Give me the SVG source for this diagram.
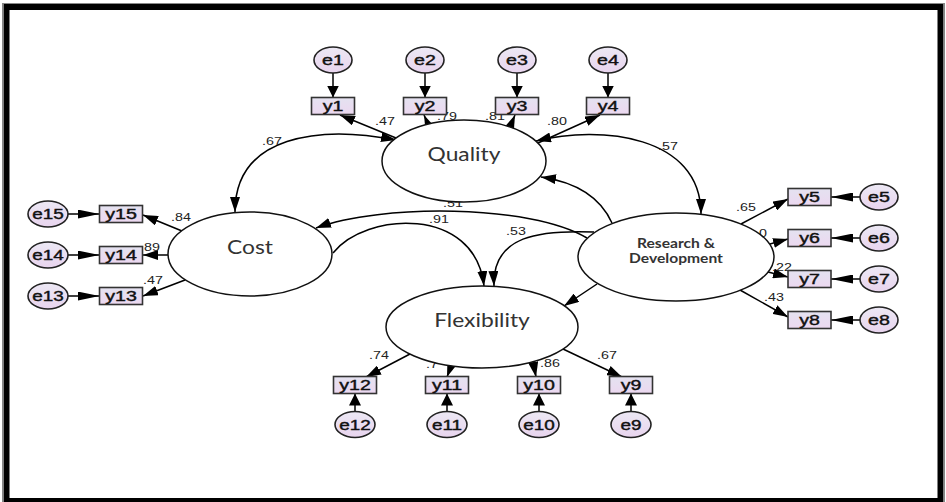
<svg xmlns="http://www.w3.org/2000/svg" width="946" height="502" viewBox="0 0 946 502">
<defs>
<linearGradient id="gE" x1="0" y1="0" x2="0" y2="1"><stop offset="0" stop-color="#ECE8F4"/><stop offset="1" stop-color="#E8D4EE"/></linearGradient>
<linearGradient id="gY" x1="0" y1="0" x2="0" y2="1"><stop offset="0" stop-color="#E4E2F0"/><stop offset="1" stop-color="#ECD8F0"/></linearGradient>
<marker id="ah" viewBox="0 0 15 10" refX="15" refY="5" markerWidth="15" markerHeight="10" orient="auto-start-reverse" markerUnits="userSpaceOnUse"><path d="M0,0 L15,5 L0,10 z" fill="#000"/></marker>
<marker id="av" viewBox="0 0 12 12" refX="12" refY="6" markerWidth="12" markerHeight="12" orient="auto" markerUnits="userSpaceOnUse"><path d="M0,0 L12,6 L0,12 z" fill="#000"/></marker>
<marker id="ahz" viewBox="0 0 22 9" refX="22" refY="4.5" markerWidth="22" markerHeight="9" orient="auto" markerUnits="userSpaceOnUse"><path d="M0,0 L22,4.5 L0,9 z" fill="#000"/></marker>
</defs>
<style>
.ln{fill:none;stroke:#000;stroke-width:1.5}
.a{marker-end:url(#ah)}
.cv{marker-start:url(#ah);marker-end:url(#ah)}
.v{marker-end:url(#av)}
.h{marker-end:url(#ahz)}
.err{fill:url(#gE);stroke:#222;stroke-width:1.6}
.obs{fill:url(#gY);stroke:#333;stroke-width:1.6}
.lat{fill:#fff;stroke:#111;stroke-width:1.5}
.t{font-family:"Liberation Sans",Arial,sans-serif;font-size:14px;fill:#111;stroke:#111;stroke-width:0.4;text-anchor:middle}
.el{font-family:"Liberation Sans",Arial,sans-serif;font-size:11px;fill:#222;text-anchor:middle}
.lt{font-family:Lato,"Open Sans",sans-serif;font-size:19px;fill:#333;text-anchor:middle}
.rd{font-family:Lato,"Open Sans",sans-serif;font-size:12.5px;font-weight:bold;fill:#333;text-anchor:middle}
</style>
<rect x="0" y="0" width="946" height="502" fill="#fff"/>
<rect x="2.5" y="3.5" width="942" height="499" fill="none" stroke="#888" stroke-width="1"/>
<rect x="6.5" y="7" width="934" height="494" fill="none" stroke="#000" stroke-width="6"/>

<g id="connectors">
<path class="ln v" d="M333,73 V97.5"/>
<path class="ln v" d="M425,73 V97.5"/>
<path class="ln v" d="M517,73 V97.5"/>
<path class="ln v" d="M608,73 V97.5"/>
<path class="ln v" d="M355,411.5 V393.5"/>
<path class="ln v" d="M447,411.5 V393.5"/>
<path class="ln v" d="M539,411.5 V393.5"/>
<path class="ln v" d="M631,411.5 V393.5"/>
<path class="ln h" d="M68,214 H99.5"/>
<path class="ln h" d="M68,255 H99.5"/>
<path class="ln h" d="M68,296 H99.5"/>
<path class="ln h" d="M860,197 H831"/>
<path class="ln h" d="M860,238 H831"/>
<path class="ln h" d="M860,279 H831"/>
<path class="ln h" d="M860,320 H831"/>
<path class="ln a" d="M396,138 L340,115"/>
<path class="ln a" d="M428,124 L424,115"/>
<path class="ln a" d="M510,127 L515,115"/>
<path class="ln a" d="M538,143 L600,115"/>
<path class="ln a" d="M182,231 L143,215"/>
<path class="ln a" d="M168,255 L143,255"/>
<path class="ln a" d="M185,280 L143,296"/>
<path class="ln a" d="M741,224 L788,199"/>
<path class="ln a" d="M770,244 L788,239"/>
<path class="ln a" d="M768,272 L788,277"/>
<path class="ln a" d="M740,290 L788,317"/>
<path class="ln a" d="M410,354 L366,377"/>
<path class="ln a" d="M451,366 L447,377"/>
<path class="ln a" d="M533,361 L536,377"/>
<path class="ln a" d="M563,349 L622,377"/>
<path class="ln cv" d="M396,140 C320,125 235,135 235,212"/>
<path class="ln cv" d="M536,141 C600,125 701,135 701,214"/>
<path class="ln a" d="M612,223 Q595,185 541,177"/>
<path class="ln a" d="M587,238 C530,204 380,204 316,228"/>
<path class="ln a" d="M333,253 C365,212 475,205 484,286"/>
<path class="ln a" d="M594,232 C540,230 492,235 494,286"/>
<path class="ln a" d="M597,284 L564,306"/>
<text class="el" transform="translate(385,125) scale(1.3,1)">.47</text>
<text class="el" transform="translate(447,120) scale(1.3,1)">.79</text>
<text class="el" transform="translate(495,120) scale(1.3,1)">.81</text>
<text class="el" transform="translate(557,125) scale(1.3,1)">.80</text>
<text class="el" transform="translate(272,145) scale(1.3,1)">.67</text>
<text class="el" transform="translate(668,149.5) scale(1.3,1)">.57</text>
<text class="el" transform="translate(181,220.5) scale(1.3,1)">.84</text>
<text class="el" transform="translate(152,251) scale(1.3,1)">89</text>
<text class="el" transform="translate(153,283.5) scale(1.3,1)">.47</text>
<text class="el" transform="translate(746,211) scale(1.3,1)">.65</text>
<text class="el" transform="translate(763,237) scale(1.3,1)">0</text>
<text class="el" transform="translate(782,270.5) scale(1.3,1)">.22</text>
<text class="el" transform="translate(774,300.5) scale(1.3,1)">.43</text>
<text class="el" transform="translate(379,358.5) scale(1.3,1)">.74</text>
<text class="el" transform="translate(432,368) scale(1.3,1)">.7</text>
<text class="el" transform="translate(550,367) scale(1.3,1)">.86</text>
<text class="el" transform="translate(607,358.5) scale(1.3,1)">.67</text>
<text class="el" transform="translate(453,207) scale(1.3,1)">.51</text>
<text class="el" transform="translate(439,223) scale(1.3,1)">.91</text>
<text class="el" transform="translate(516,235) scale(1.3,1)">.53</text>
</g>

<g id="Quality"><ellipse class="lat" cx="464" cy="161" rx="82" ry="41"/><text class="lt" transform="translate(464,161) scale(1.2,1)">Quality</text></g>
<g id="Cost"><ellipse class="lat" cx="250" cy="254" rx="82" ry="42"/><text class="lt" transform="translate(250,254) scale(1.2,1)">Cost</text></g>
<g id="Flexibility"><ellipse class="lat" cx="482" cy="327" rx="96" ry="41"/><text class="lt" transform="translate(482,327) scale(1.2,1)">Flexibility</text></g>
<g id="RD"><ellipse class="lat" cx="676" cy="257" rx="98" ry="44"/><text class="rd" transform="translate(676,247.5) scale(1.25,1)">Research &amp;</text><text class="rd" transform="translate(676,262.5) scale(1.25,1)">Development</text></g>

<g id="y1"><rect class="obs" x="311.5" y="97.5" width="43" height="17"/><text class="t" transform="translate(333,111) scale(1.4,1)">y1</text></g>
<g id="y2"><rect class="obs" x="403.5" y="97.5" width="43" height="17"/><text class="t" transform="translate(425,111) scale(1.4,1)">y2</text></g>
<g id="y3"><rect class="obs" x="495.5" y="97.5" width="43" height="17"/><text class="t" transform="translate(517,111) scale(1.4,1)">y3</text></g>
<g id="y4"><rect class="obs" x="586.5" y="97.5" width="43" height="17"/><text class="t" transform="translate(608,111) scale(1.4,1)">y4</text></g>
<g id="e1"><ellipse class="err" cx="333" cy="60" rx="19" ry="13"/><text class="t" transform="translate(333,65) scale(1.4,1)">e1</text></g>
<g id="e2"><ellipse class="err" cx="425" cy="60" rx="19" ry="13"/><text class="t" transform="translate(425,65) scale(1.4,1)">e2</text></g>
<g id="e3"><ellipse class="err" cx="517" cy="60" rx="19" ry="13"/><text class="t" transform="translate(517,65) scale(1.4,1)">e3</text></g>
<g id="e4"><ellipse class="err" cx="608" cy="60" rx="19" ry="13"/><text class="t" transform="translate(608,65) scale(1.4,1)">e4</text></g>

<g id="y15"><rect class="obs" x="99.5" y="205.5" width="43" height="17"/><text class="t" transform="translate(121,219) scale(1.4,1)">y15</text></g>
<g id="y14"><rect class="obs" x="99.5" y="246.5" width="43" height="17"/><text class="t" transform="translate(121,260) scale(1.4,1)">y14</text></g>
<g id="y13"><rect class="obs" x="99.5" y="287.5" width="43" height="17"/><text class="t" transform="translate(121,301) scale(1.4,1)">y13</text></g>
<g id="e15"><ellipse class="err" cx="48" cy="214" rx="20" ry="13"/><text class="t" transform="translate(48,219) scale(1.35,1)">e15</text></g>
<g id="e14"><ellipse class="err" cx="48" cy="255" rx="20" ry="13"/><text class="t" transform="translate(48,260) scale(1.35,1)">e14</text></g>
<g id="e13"><ellipse class="err" cx="48" cy="296" rx="20" ry="13"/><text class="t" transform="translate(48,301) scale(1.35,1)">e13</text></g>

<g id="y5"><rect class="obs" x="788" y="188.5" width="43" height="17"/><text class="t" transform="translate(809.5,202) scale(1.4,1)">y5</text></g>
<g id="y6"><rect class="obs" x="788" y="229.5" width="43" height="17"/><text class="t" transform="translate(809.5,243) scale(1.4,1)">y6</text></g>
<g id="y7"><rect class="obs" x="788" y="270.5" width="43" height="17"/><text class="t" transform="translate(809.5,284) scale(1.4,1)">y7</text></g>
<g id="y8"><rect class="obs" x="788" y="311.5" width="43" height="17"/><text class="t" transform="translate(809.5,325) scale(1.4,1)">y8</text></g>
<g id="e5"><ellipse class="err" cx="879" cy="197" rx="19" ry="13"/><text class="t" transform="translate(879,202) scale(1.4,1)">e5</text></g>
<g id="e6"><ellipse class="err" cx="879" cy="238" rx="19" ry="13"/><text class="t" transform="translate(879,243) scale(1.4,1)">e6</text></g>
<g id="e7"><ellipse class="err" cx="879" cy="279" rx="19" ry="13"/><text class="t" transform="translate(879,284) scale(1.4,1)">e7</text></g>
<g id="e8"><ellipse class="err" cx="879" cy="320" rx="19" ry="13"/><text class="t" transform="translate(879,325) scale(1.4,1)">e8</text></g>

<g id="y12"><rect class="obs" x="333.5" y="376.5" width="43" height="17"/><text class="t" transform="translate(355,390) scale(1.4,1)">y12</text></g>
<g id="y11"><rect class="obs" x="425.5" y="376.5" width="43" height="17"/><text class="t" transform="translate(447,390) scale(1.4,1)">y11</text></g>
<g id="y10"><rect class="obs" x="517.5" y="376.5" width="43" height="17"/><text class="t" transform="translate(539,390) scale(1.4,1)">y10</text></g>
<g id="y9"><rect class="obs" x="609.5" y="376.5" width="43" height="17"/><text class="t" transform="translate(631,390) scale(1.4,1)">y9</text></g>
<g id="e12"><ellipse class="err" cx="355" cy="424.5" rx="20" ry="13"/><text class="t" transform="translate(355,429.5) scale(1.35,1)">e12</text></g>
<g id="e11"><ellipse class="err" cx="447" cy="424.5" rx="20" ry="13"/><text class="t" transform="translate(447,429.5) scale(1.35,1)">e11</text></g>
<g id="e10"><ellipse class="err" cx="539" cy="424.5" rx="20" ry="13"/><text class="t" transform="translate(539,429.5) scale(1.35,1)">e10</text></g>
<g id="e9"><ellipse class="err" cx="631" cy="424.5" rx="20" ry="13"/><text class="t" transform="translate(631,429.5) scale(1.35,1)">e9</text></g>
</svg>
